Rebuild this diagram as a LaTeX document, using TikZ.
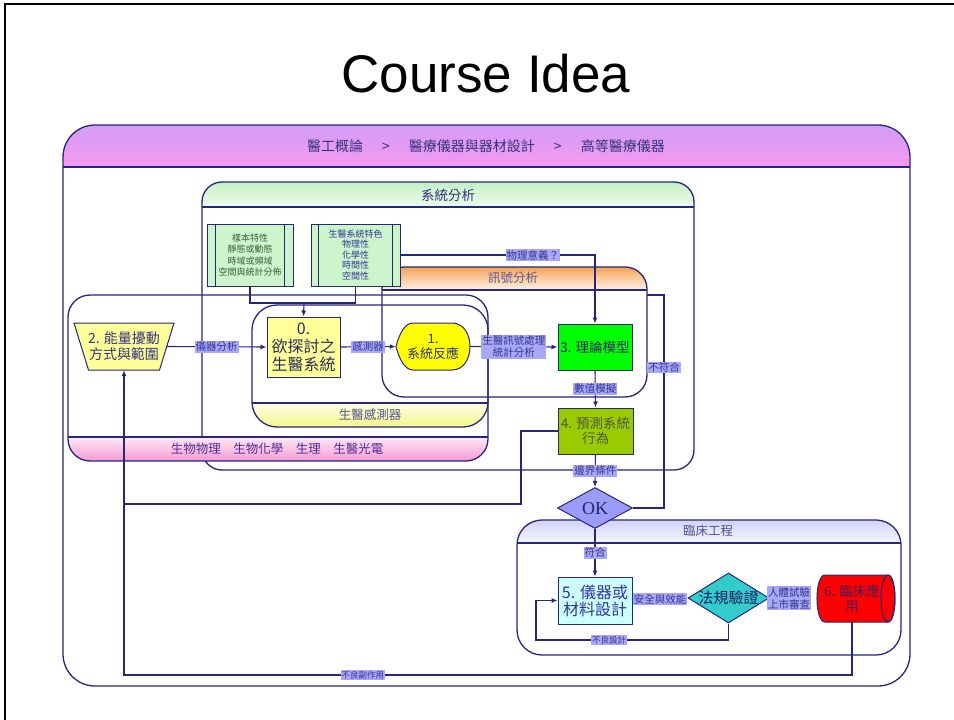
\documentclass[tikz,border=0pt]{standalone}
\usepackage{fontspec}
\setmainfont{Liberation Serif}
\newfontfamily\cjk{Noto Sans CJK TC}
\newfontfamily\titlefont{Liberation Sans}
\usetikzlibrary{arrows.meta,shapes.geometric}

\definecolor{edge}{HTML}{26267A}
\definecolor{ink}{HTML}{333380}
\definecolor{tagink}{HTML}{333399}
\definecolor{tagbg}{HTML}{A8A8F6}
\definecolor{maintop}{HTML}{D39CF8}
\definecolor{mainbot}{HTML}{F59AEE}
\definecolor{systop}{HTML}{C4F0C4}
\definecolor{sysbot}{HTML}{EEFDEE}
\definecolor{sigtop}{HTML}{F6A257}
\definecolor{sigbot}{HTML}{FFF3E8}
\definecolor{biotop}{HTML}{FFE8F6}
\definecolor{biobot}{HTML}{F49BD3}
\definecolor{sentop}{HTML}{FFFFE6}
\definecolor{senbot}{HTML}{F5F58A}
\definecolor{clitop}{HTML}{D2D2FA}
\definecolor{clibot}{HTML}{F7F7FF}
\definecolor{paleyellow}{HTML}{FFFF99}
\definecolor{palegreen}{HTML}{CCF5CC}
\definecolor{okfill}{HTML}{9C9CF8}
\definecolor{lawfill}{HTML}{33CCCC}
\definecolor{designfill}{HTML}{CCFFFF}
\definecolor{predfill}{HTML}{99CC00}
\definecolor{sysyellow}{HTML}{FFFF00}

\newcommand{\fsz}[2]{\fontsize{#1}{#2}\selectfont}
% rounded group frame with a shaded band:
% x1,y1,x2,y2,radius,band top,band bottom,shading,separator y
\newcommand{\grpbox}[9]{%
  \begin{scope}
    \clip[rounded corners=#5pt] (#1,#2) rectangle (#3,#4);
    \shade[#8] (#1,#6) rectangle (#3,#7);
  \end{scope}
  \draw[grpline,rounded corners=#5pt] (#1,#2) rectangle (#3,#4);
  \draw[grpline] (#1,#9) -- (#3,#9);
}

\begin{document}
\begin{tikzpicture}[x=1pt,y=-1pt,
  grpline/.style={draw=edge,line width=1.3pt},
  conn/.style={draw=edge,line width=1.1pt},
  arr/.style={conn,-{Latex[length=6pt,width=5pt]}},
  flowtag/.style={fill=tagbg,inner sep=1pt,text=tagink,font=\cjk\fsz{10.5}{12},align=center},
  smalltag/.style={flowtag,font=\cjk\fsz{8.5}{10}},
  boxnode/.style={draw=edge,line width=1pt,inner sep=0pt,align=center},
  txtnode/.style={inner sep=0pt,align=center},
  grptitle/.style={font=\cjk\fsz{13}{15},text=ink,inner sep=0pt},
]
\useasboundingbox (0,0) rectangle (954,720);
\fill[white] (0,0) rectangle (954,720);

% page frame and title
\draw[black,line width=2pt] (5,720) -- (5,4) -- (954,4);
\node[anchor=base,inner sep=0pt] (title) at (486,92) {\titlefont\fsz{53}{60}Course Idea};

% course track frame
\fill[white,rounded corners=32pt] (63,125) rectangle (910,686);
\grpbox{63}{125}{910}{686}{32}{125}{167}{top color=maintop,bottom color=mainbot}{167}
\node[grptitle,font=\cjk\fsz{14}{16}] (track) at (486,146)
  {醫工概論\hspace{19pt}>\hspace{19pt}醫療儀器與器材設計\hspace{19pt}>\hspace{19pt}高等醫療儀器};

% system analysis
\fill[white,rounded corners=20pt] (202,182) rectangle (694,470);
\grpbox{202}{182}{694}{470}{20}{182}{207}{top color=systop,bottom color=sysbot}{207}
\node[grptitle,font=\cjk\fsz{13.5}{15}] (sysana) at (448,195) {系統分析};

% signal analysis
\fill[white,rounded corners=22pt] (382,267) rectangle (647,397);
\grpbox{382}{267}{647}{397}{22}{267}{290}{top color=sigtop,bottom color=sigbot}{290}
\node[grptitle,font=\cjk\fsz{12.5}{14},text=ink!80] (sigana) at (513,278) {訊號分析};

% life sciences
\grpbox{68}{295}{488}{461}{22}{437}{461}{top color=biotop,bottom color=biobot}{437}
\node[grptitle,font=\cjk\fsz{12.5}{14},text=ink!85!magenta] (lifesci) at (277,449)
  {生物物理\quad 生物化學\quad 生理\quad 生醫光電};

% biomedical sensors
\grpbox{252}{305}{488}{427}{25}{403}{427}{top color=sentop,bottom color=senbot}{403}
\node[grptitle,font=\cjk\fsz{12.5}{14},text=ink!85] (sensor) at (370,415) {生醫感測器};

% clinical engineering
\fill[white,rounded corners=25pt] (517,520) rectangle (901,655);
\grpbox{517}{520}{901}{655}{25}{520}{543}{top color=clitop,bottom color=clibot}{543}
\node[grptitle,font=\cjk\fsz{12.5}{14},text=ink!85] (clinic) at (708,531) {臨床工程};

% predefined-process boxes
\node[boxnode,fill=palegreen,minimum width=86pt,minimum height=62pt,
      text={rgb,255:red,60;green,90;blue,60},font=\cjk\fsz{9}{11.5}] (b1) at (250,255)
  {樣本特性\\靜態或動態\\時域或頻域\\空間與統計分佈};
\draw[conn,line width=1pt] ([xshift=9pt]b1.north west) -- ([xshift=9pt]b1.south west);
\draw[conn,line width=1pt] ([xshift=-9pt]b1.north east) -- ([xshift=-9pt]b1.south east);
\node[boxnode,fill=palegreen,minimum width=89pt,minimum height=62pt,
      text=tagink,font=\cjk\fsz{9}{10.5}] (b2) at (355.5,255)
  {生醫系統特色\\物理性\\化學性\\時間性\\空間性};
\draw[conn,line width=1pt] ([xshift=8pt]b2.north west) -- ([xshift=8pt]b2.south west);
\draw[conn,line width=1pt] ([xshift=-8pt]b2.north east) -- ([xshift=-8pt]b2.south east);

% 2: perturbation (trapezoid)
\filldraw[draw=edge,line width=1pt,fill=paleyellow] (74,323) -- (174,323) -- (159.5,370) -- (88.5,370) -- cycle;
\node[txtnode,minimum width=85pt,minimum height=47pt,font=\cjk\fsz{14}{16},text=ink] (n2) at (124,346.5)
  {2. 能量擾動\\方式與範圍};

% 0: system under study
\node[boxnode,fill=paleyellow,minimum width=73pt,minimum height=60pt,
      font=\cjk\fsz{16}{18},text={rgb,255:red,45;green,45;blue,90}] (n0) at (303.5,347)
  {0.\\欲探討之\\生醫系統};

% 1: system response (display shape)
\filldraw[draw=edge,line width=1pt,fill=sysyellow]
  (396,346.5) .. controls (400,331) and (406,323) .. (413,323) -- (452,323)
  .. controls (476,323) and (476,370) .. (452,370) -- (413,370)
  .. controls (406,370) and (400,362) .. cycle;
\node[txtnode,minimum width=74pt,minimum height=47pt,font=\cjk\fsz{13}{15},text=ink] (n1) at (433,346.5)
  {1.\\系統反應};

% 3: theoretical model
\node[boxnode,fill=green,minimum width=74pt,minimum height=46pt,
      font=\cjk\fsz{13.5}{15},text={rgb,255:red,40;green,40;blue,100}] (n3) at (595,347)
  {3. 理論模型};

% 4: predicted behaviour
\node[boxnode,fill=predfill,minimum width=75pt,minimum height=46pt,
      font=\cjk\fsz{13.5}{15},text={rgb,255:red,85;green,85;blue,60}] (n4) at (595.5,431)
  {4. 預測系統\\行為};

% OK decision
\node[diamond,draw=edge,line width=1pt,fill=okfill,minimum width=75pt,minimum height=41pt,
      inner sep=0pt,font=\rmfamily\fsz{18}{20},text={rgb,255:red,35;green,35;blue,100}] (ok) at (595,508)
  {\smash{\makebox[0pt]{\raisebox{-6pt}{OK}}}};

% 5: device or material design
\node[boxnode,fill=designfill,minimum width=74pt,minimum height=47pt,
      font=\cjk\fsz{16}{17},text={rgb,255:red,50;green,50;blue,160}] (n5) at (595,600.5)
  {5. 儀器或\\材料設計};

% regulatory validation
\node[diamond,draw=edge,line width=1pt,fill=lawfill,minimum width=81pt,minimum height=50pt,
      inner sep=0pt,font=\cjk\fsz{15}{17},text={rgb,255:red,30;green,30;blue,100}] (law) at (728.5,598)
  {\smash{\makebox[0pt]{\raisebox{-5.5pt}{法規驗證}}}};

% 6: clinical application (cylinder)
\filldraw[draw=edge,line width=1pt,fill=red]
  (825,575) -- (888,575) .. controls (897.3,575) and (897.3,622) .. (888,622) -- (825,622)
  .. controls (814.3,622) and (814.3,575) .. cycle;
\draw[edge,line width=1pt] (888,598.5) ellipse [x radius=7,y radius=23.5];
\node[txtnode,minimum width=78pt,minimum height=47pt,font=\cjk\fsz{13.5}{15},
      text={rgb,255:red,70;green,30;blue,90}] (n6) at (852,598.5)
  {6. 臨床應\\用};

% junction points
\coordinate (join0) at (304,303);
\coordinate (mis1) at (664,295);
\coordinate (mis2) at (647,295);
\coordinate (back4) at (521,504);
\coordinate (back4end) at (124,504);
\coordinate (redo) at (536,640);
\coordinate (side) at (124,675);

% connectors
\draw[conn] (b1.south) |- (join0);
\draw[conn] (b2.south) |- (join0);
\draw[arr] (join0) -- (n0.north);
\draw[arr] (b2.east) -| node[flowtag,pos=0.34]{物理意義？} (n3.north);
\draw[arr] (n2.east) -- node[flowtag]{儀器分析} (n0.west);
\draw[arr] (n0.east) -- node[flowtag]{感測器} (n1.west);
\draw[arr] (n1.east) -- node[flowtag]{生醫訊號處理\\統計分析} (n3.west);
\draw[arr] (n3.south) -- node[flowtag]{數值模擬} (n4.north);
\draw[arr] (n4.south) -- node[flowtag]{邊界條件} (ok.north);
\draw[conn] (ok.east) -| node[flowtag,pos=0.83]{不符合} (mis1) -- (mis2);
\draw[conn] (n4.west) -| (back4) -- (back4end);
\draw[arr] (ok.south) -- node[flowtag]{符合} (n5.north);
\draw[arr] (n5.east) -- node[flowtag]{安全與效能} (law.west);
\draw[arr] (law.east) -- node[flowtag]{人體試驗\\上市審查} ([xshift=-4pt]n6.west);
\draw[arr] (law.south) |- node[smalltag,pos=0.81]{不良設計} (redo) |- (n5.west);
\draw[arr] (n6.south) |- node[smalltag,pos=0.836]{不良副作用} (side) -- (n2.south);
\end{tikzpicture}
\end{document}
